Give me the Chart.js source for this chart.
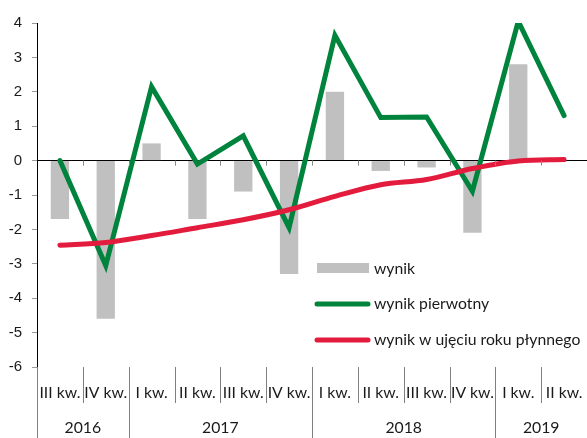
<!DOCTYPE html>
<html><head><meta charset="utf-8">
<script src="https://cdn.jsdelivr.net/npm/chart.js@4.4.1/dist/chart.umd.min.js"></script>
<style>html,body{margin:0;padding:0;background:#fff}#wrap{width:587px;height:438px;position:relative}</style>
</head><body>
<div id="wrap"><canvas id="c"></canvas></div>
<script>
const quarters = ['III kw.','IV kw.','I kw.','II kw.','III kw.','IV kw.','I kw.','II kw.','III kw.','IV kw.','I kw.','II kw.'];
const yearLabels = ['2016','2017','2018','2019'];
const yearSpans = [2,4,4,2];
const wynik = [-1.7,-4.6,0.5,-1.7,-0.9,-3.3,2.0,-0.3,-0.2,-2.1,2.8,null];
const pierwotny = [0.0,-3.05,2.15,-0.1,0.72,-1.95,3.64,1.25,1.27,-0.89,4.05,1.31];
const roczny = [-2.46,-2.38,-2.18,-1.95,-1.72,-1.43,-1.04,-0.70,-0.55,-0.23,-0.01,0.03];
const seriesNames = ['wynik','wynik pierwotny','wynik w ujęciu roku płynnego'];
const yMin = -6, yMax = 4;

const GREY = '#c0c0c0', GREEN = '#00843d', RED = '#e31b3d';
const labelFont = '15.75px Lato, "Open Sans", sans-serif';

const extras = {
  id: 'extras',
  afterDraw(chart) {
    const ctx = chart.ctx, a = chart.chartArea;
    const xs = chart.scales.x, ys = chart.scales.y;
    const n = quarters.length;
    const cw = (a.right - a.left) / n;
    const y0 = ys.getPixelForValue(0);
    ctx.save();
    // ticks on zero line at category boundaries
    ctx.strokeStyle = '#888'; ctx.lineWidth = 1;
    for (let i = 1; i < n; i++) {
      const x = Math.round(a.left + i * cw) + 0.5;
      ctx.beginPath(); ctx.moveTo(x, y0); ctx.lineTo(x, y0 + 5); ctx.stroke();
    }
    // category separators
    const yearStarts = [0]; let s = 0;
    yearSpans.forEach(sp => { s += sp; yearStarts.push(s); });
    ctx.strokeStyle = '#808080';
    for (let i = 0; i < n; i++) {
      const x = Math.round(a.left + i * cw) + 0.5;
      const isYear = yearStarts.includes(i);
      ctx.beginPath(); ctx.moveTo(x, a.bottom); ctx.lineTo(x, isYear ? 438 : a.bottom + 36); ctx.stroke();
    }
    // quarter labels
    ctx.fillStyle = '#1a1a1a'; ctx.font = labelFont;
    ctx.textAlign = 'center'; ctx.textBaseline = 'middle';
    quarters.forEach((q, i) => {
      ctx.fillText(q, xs.getPixelForValue(i), a.bottom + 26);
    });
    // year labels
    yearLabels.forEach((yl, k) => {
      const from = yearStarts[k], to = yearStarts[k + 1];
      const xc = a.left + (from + to) / 2 * cw;
      ctx.fillText(yl, xc, a.bottom + 61);
    });
    // legend
    ctx.textAlign = 'left';
    ctx.fillStyle = GREY;
    ctx.fillRect(317, 263, 52, 10);
    ctx.lineCap = 'round'; ctx.lineWidth = 5;
    ctx.strokeStyle = GREEN;
    ctx.beginPath(); ctx.moveTo(317, 304); ctx.lineTo(368, 304); ctx.stroke();
    ctx.strokeStyle = RED;
    ctx.beginPath(); ctx.moveTo(317, 340); ctx.lineTo(368, 340); ctx.stroke();
    ctx.fillStyle = '#1a1a1a';
    ctx.fillText(seriesNames[0], 374, 269);
    ctx.fillText(seriesNames[1], 374, 304);
    ctx.fillText(seriesNames[2], 374, 340);
    ctx.restore();
  }
};

new Chart(document.getElementById('c'), {
  type: 'bar',
  data: {
    labels: quarters,
    datasets: [
      { type: 'bar', label: seriesNames[0], data: wynik, backgroundColor: GREY,
        barPercentage: 0.4, categoryPercentage: 1.0, order: 3 },
      { type: 'line', label: seriesNames[1], data: pierwotny, borderColor: GREEN,
        borderWidth: 5, pointRadius: 0, tension: 0, borderCapStyle: 'round', order: 2 },
      { type: 'line', label: seriesNames[2], data: roczny, borderColor: RED,
        borderWidth: 5, pointRadius: 0, cubicInterpolationMode: 'monotone', borderCapStyle: 'round', order: 1 }
    ]
  },
  options: {
    responsive: true, maintainAspectRatio: false, animation: false,
    devicePixelRatio: 1,
    layout: { padding: { top: 23, right: 0, bottom: 71, left: 0 } },
    plugins: { legend: { display: false }, tooltip: { enabled: false } },
    scales: {
      x: { display: false, offset: true, grid: { display: false } },
      y: {
        min: yMin, max: yMax,
        afterFit(scale) { scale.width = 37; },
        border: { display: true, color: '#000', width: 1 },
        grid: {
          color: c => (c.tick && c.tick.value === 0) ? '#000' : 'rgba(0,0,0,0)',
          tickColor: '#999', tickLength: 5, lineWidth: 1
        },
        ticks: { stepSize: 1, color: '#1a1a1a', padding: 10,
          font: { family: '"Liberation Sans", Arial, sans-serif', size: 15 } }
      }
    }
  },
  plugins: [extras]
});
</script>
</body></html>
